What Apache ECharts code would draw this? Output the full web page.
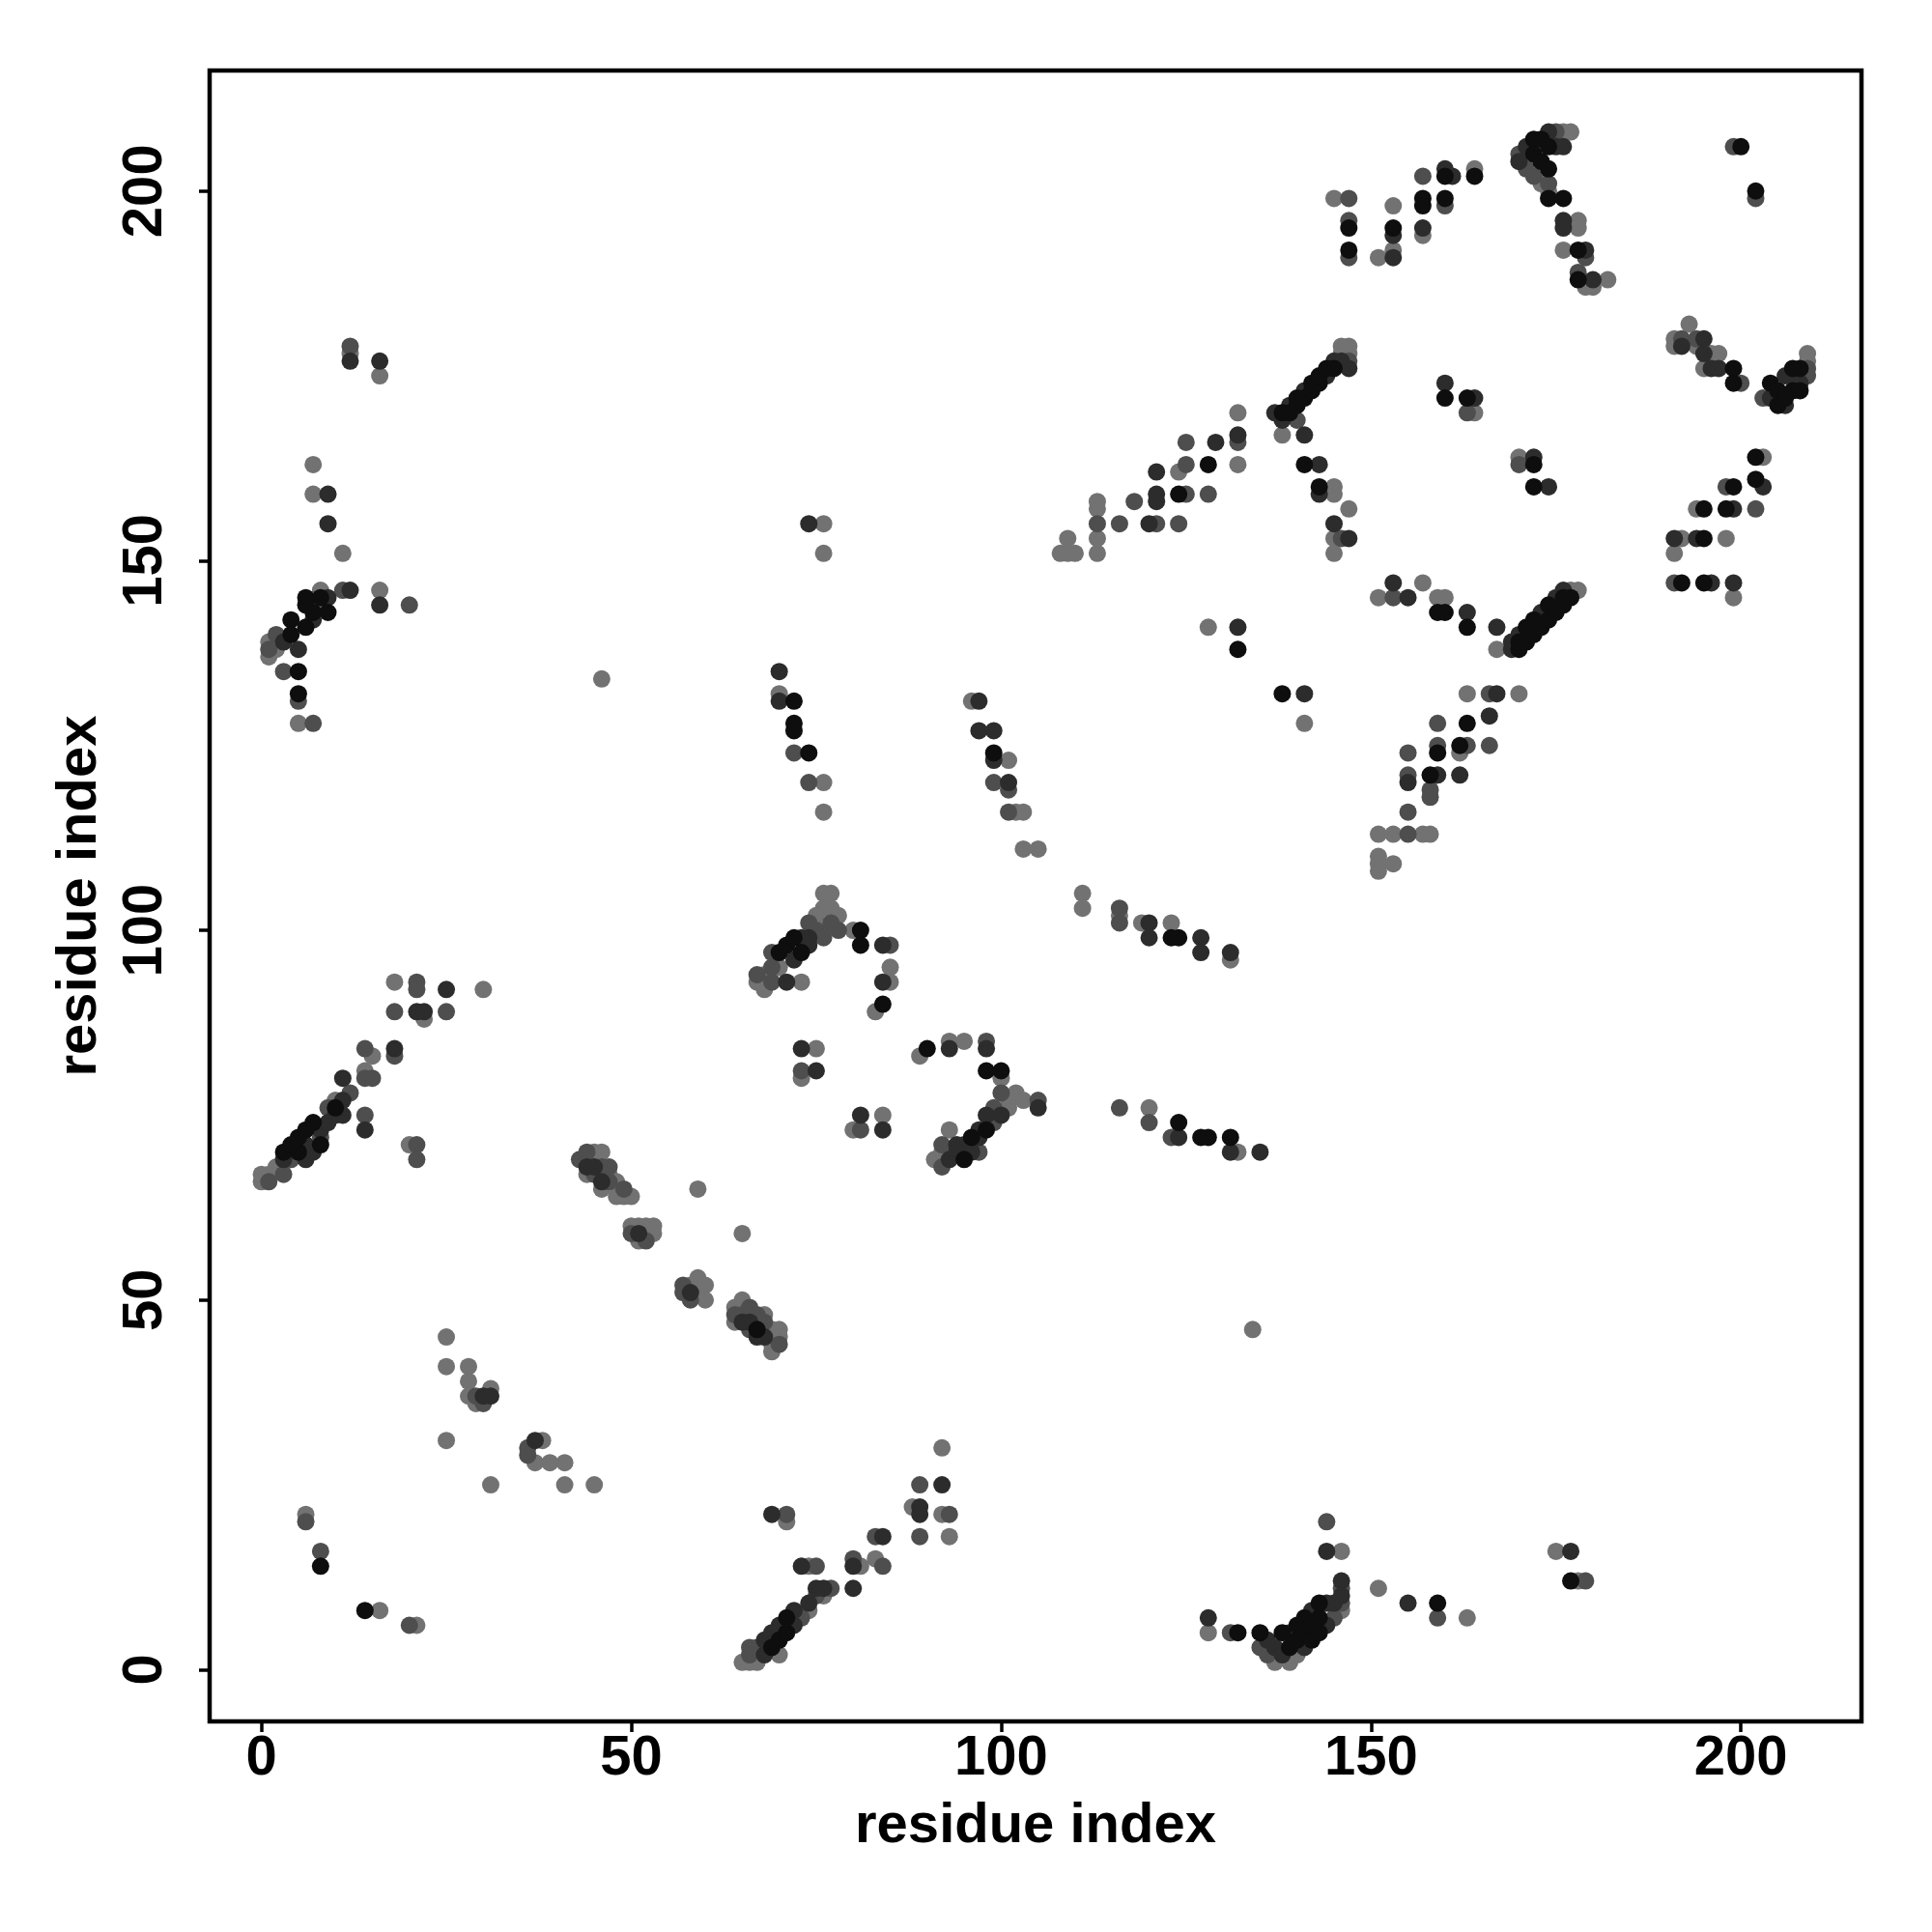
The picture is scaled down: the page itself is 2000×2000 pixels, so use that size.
<!DOCTYPE html>
<html>
<head>
<meta charset="utf-8">
<script src="https://cdn.jsdelivr.net/npm/echarts@6/dist/echarts.min.js"></script>
<style>html,body{margin:0;padding:0;background:#fff}#c{width:2000px;height:2000px}</style>
</head>
<body>
<div id="c"></div>
<script>
// Tick values on both axes
const tickVals = [0, 50, 100, 150, 200];
const axisTitle = "residue index";

// Contacts (x residue, y residue), grouped by shade of the point
const lightPts = [
 [12,178],[16,175],[7,163],[7,159],[11,151],[8,146],[16,146],[1,137],[1,139],[2,138],[8,144],[5,128],
 [0,66],[1,67],[2,68],[0,67],[14,81],[15,83],[10,77],[18,93],[30,92],[22,88],[20,71],
 [25,45],[25,41],[28,41],[28,39],[28,37],[29,36],[31,38],[25,31],[38,31],[37,28],[39,28],[41,28],[31,25],[41,25],[45,25],
 [6,21],[16,8],[21,6],
 [45,70],[46,70],[47,67],[48,66],[48,64],[49,64],[50,64],[46,65],[44,67],[59,65],[65,59],
 [50,60],[51,60],[52,60],[53,60],[51,58],[53,59],[58,52],[59,53],[59,51],[60,52],[60,50],
 [64,49],[64,47],[65,50],[68,48],[69,46],[69,44],[69,43],[70,46],[70,45],
 [92,30],[88,22],[92,21],[93,18],[71,20],[81,14],[83,15],[74,14],
 [65,1],[66,1],[67,1],[74,8],[76,10],[70,2],
 [76,105],[77,105],[76,103],[78,102],[80,100],[85,95],[85,93],[83,89],[67,93],[68,94],[68,92],[73,93],[70,95],[75,102],[76,100],[77,103],
 [70,132],[76,120],[76,116],[96,131],[101,123],[102,116],[103,116],[103,111],[105,111],[76,155],[76,151],[46,134],
 [75,84],[73,80],[84,75],[80,73],[89,83],[93,85],[95,85],[100,80],[102,78],[101,76],[93,73],[92,70],[91,69],[103,77],[101,77],
 [111,105],[111,103],[116,102],[119,101],[123,101],[131,96],[120,76],[132,70],
 [134,46],[146,16],[151,11],[128,5],[137,1],[139,1],[140,2],[146,8],[163,7],[175,16],[178,12],
 [128,141],[141,128],
 [151,113],[153,113],[157,113],[158,113],[151,110],[151,109],[151,108],[153,109],[151,145],[157,147],[159,145],[160,145],[167,138],
 [163,132],[170,132],[162,124],[177,146],[178,146],
 [203,164],[194,157],[192,153],[198,153],[191,151],[199,145],
 [108,151],[109,151],[110,151],[109,153],[113,151],[113,153],[113,157],[113,158],[124,162],[132,163],[132,170],[138,167],
 [145,160],[145,159],[147,157],[145,151],[145,153],[146,178],[147,178],[147,179],[146,179],
 [145,199],[151,191],[153,198],[153,192],[157,194],[164,203],
 [173,201],[176,208],[177,208],[174,200],[178,196],[178,195],[176,192],[179,187],[180,187],[182,188],
 [164,170],[170,164],
 [193,182],[191,180],[191,179],[194,179],[195,176],[196,178],[197,178],[209,178],[209,177]
];
const midPts = [
 [12,179],[11,146],[20,144],[5,131],[7,128],[3,135],[1,138],[2,140],
 [1,66],[3,67],[4,69],[9,76],[8,72],[12,78],[10,76],[14,80],[15,80],[14,84],[18,83],[14,75],
 [21,93],[21,92],[18,89],[25,89],[21,71],[21,69],
 [30,36],[29,37],[36,30],[36,29],[6,20],[8,16],[20,6],
 [43,69],[44,70],[45,67],[46,68],[47,68],[47,66],[49,65],[50,59],[52,58],[57,52],[57,51],[58,50],
 [64,48],[65,48],[66,49],[66,46],[67,48],[68,47],[70,44],
 [89,25],[93,21],[89,18],[71,21],[83,18],[80,15],[84,14],[75,14],[77,11],
 [66,2],[67,3],[73,7],[75,10],[66,3],
 [78,100],[85,98],[67,94],[69,95],[69,93],[75,100],[76,99],[69,97],[74,101],[77,101],
 [72,124],[74,120],[99,120],[101,119],[101,116],
 [73,81],[81,73],[98,85],[100,78],[99,76],[92,71],[92,68],[97,70],[105,77],[99,74],
 [116,103],[116,101],[116,76],[120,74],[123,72],
 [144,20],[146,11],[131,5],[135,3],[136,2],[145,7],[146,9],[159,7],[179,12],
 [155,124],[155,121],[158,119],[155,116],[155,113],[153,145],[166,132],[159,128],[159,125],[163,125],[166,125],[158,118],
 [198,160],[202,157],[191,147],
 [113,155],[116,155],[118,158],[121,155],[124,155],[125,159],[128,159],[125,163],[125,166],[132,166],[146,153],[147,177],[140,169],
 [147,199],[147,196],[147,191],[157,202],[160,198],
 [170,205],[171,203],[172,202],[175,208],[174,201],[179,191],[178,189],[199,206],[202,199],
 [163,170],[170,163],
 [192,180],[194,180],[200,174],[203,172],[209,176],[209,175]
];
const darkPts = [
 [12,177],[16,177],[9,155],[9,159],[12,146],[16,144],[3,139],[5,138],[7,142],[9,145],
 [3,69],[6,69],[7,70],[6,71],[8,73],[10,75],[11,77],[11,75],[9,74],[11,80],[14,73],[18,84],
 [25,92],[21,89],[22,89],[31,37],[30,37],[37,31],
 [44,68],[45,68],[46,66],[51,59],[58,51],[65,47],[66,47],[67,45],[68,45],
 [92,25],[89,22],[89,21],[69,21],[84,18],[80,14],[73,14],[75,11],[76,11],[80,11],
 [68,2],[68,4],[69,5],[70,6],[72,6],[72,8],[74,9],
 [84,98],[84,93],[74,99],[74,98],[71,93],[72,96],[73,99],
 [70,135],[70,131],[97,131],[97,127],[99,127],[99,123],[101,120],[74,155],
 [73,84],[75,81],[81,75],[84,73],[93,84],[98,84],[100,75],[98,75],[97,73],[94,71],[95,71],[93,69],[94,70],[96,70],[105,76],[97,72],
 [120,101],[120,99],[127,99],[127,97],[131,97],[124,72],[131,70],[135,70],
 [144,16],[155,9],[146,12],[128,7],[136,4],[137,3],[138,2],[139,5],[141,3],[142,8],[144,6],[144,9],[145,9],[146,10],[177,16],
 [132,141],[141,132],
 [155,120],[155,145],[153,147],[163,143],[167,141],[167,132],[166,129],[159,121],[162,121],
 [169,138],[169,139],[170,140],[173,143],[175,145],[176,146],
 [203,160],[199,157],[191,153],[194,153],[196,147],[199,147],
 [120,155],[121,159],[121,158],[121,162],[129,166],[132,167],[141,167],[143,163],[143,159],[145,155],[147,153],
 [139,171],[141,173],[144,175],[145,177],[146,177],[147,176],[138,169],[137,170],
 [153,194],[153,191],[157,195],[160,203],[161,202],
 [170,204],[171,206],[174,208],[175,206],[176,206],[176,196],[176,195],[179,192],[180,188],
 [160,174],[164,172],[172,164],[174,160],
 [192,179],[195,180],[195,178],[196,176],[197,176],[204,172],[206,171],[207,175],[208,174],[206,175]
];
const blackPts = [
 [6,145],[5,132],[5,135],[4,142],[4,140],[6,144],[6,141],[9,143],[7,143],[8,145],
 [3,70],[5,70],[5,72],[7,74],[8,71],[4,71],[10,76],[6,73],
 [8,14],[14,8],[67,46],
 [69,3],[70,4],[71,5],[71,7],
 [81,100],[81,98],[84,90],[70,97],[71,98],[72,99],[73,97],
 [72,131],[72,128],[72,127],[74,124],[99,124],
 [90,84],[98,81],[100,81],[98,73],[96,72],[95,69],
 [123,99],[124,99],[124,74],[127,72],[128,72],[131,72],
 [132,5],[135,5],[138,5],[139,3],[140,4],[140,6],[141,5],[141,7],[142,4],[142,6],[143,5],[143,7],[143,9],[159,9],[177,12],
 [132,138],[138,132],
 [158,121],[159,143],[160,143],[163,141],[163,128],[162,125],[159,124],
 [170,138],[170,139],[171,139],[171,141],[172,140],[172,142],[173,141],[174,142],[174,144],[175,143],[176,144],[177,145],[176,145],
 [202,164],[199,160],[202,161],[195,157],[198,157],[195,153],[192,147],[195,147],
 [124,159],[128,163],[141,163],[143,160],
 [138,170],[139,170],[140,171],[140,172],[141,172],[142,173],[142,174],[143,174],[143,175],[144,176],[145,176],
 [147,195],[147,192],[153,195],[157,199],[157,198],[160,202],[164,202],[160,199],
 [172,207],[172,205],[173,207],[173,204],[174,206],[174,203],[174,199],[176,199],[178,192],[178,188],
 [200,206],[202,200],
 [160,172],[163,172],[172,163],[172,160],
 [199,176],[199,174],[204,174],[205,173],[205,171],[206,172],[207,173],[208,176],[208,173],[207,176]
];

const shades = { light: '#727272', mid: '#4e4e4e', dark: '#2c2c2c', black: '#0e0e0e' };
const groups = [
  ['light', lightPts], ['mid', midPts], ['dark', darkPts], ['black', blackPts]
];

const FONT = 'Liberation Sans, Arial, Helvetica, sans-serif';
const chart = echarts.init(document.getElementById('c'), null, { renderer: 'canvas' });

chart.setOption({
  backgroundColor: '#ffffff',
  animation: false,
  grid: {
    left: 217, top: 73, width: 1710, height: 1709,
    show: true, borderColor: '#000', borderWidth: 4.5, backgroundColor: 'transparent'
  },
  xAxis: {
    type: 'value', min: -7, max: 216.3,
    name: axisTitle, nameLocation: 'middle', nameGap: 80,
    nameTextStyle: { fontFamily: FONT, fontWeight: 'bold', fontSize: 58, color: '#000' },
    axisLine: { show: false, onZero: false },
    splitLine: { show: false },
    axisTick: { show: true, inside: false, length: 11, customValues: tickVals, lineStyle: { color: '#000', width: 3.5 } },
    axisLabel: { show: true, customValues: tickVals, margin: 10, fontFamily: FONT, fontWeight: 'bold', fontSize: 58, color: '#000' }
  },
  yAxis: {
    type: 'value', min: -7, max: 216.3,
    name: axisTitle, nameLocation: 'middle', nameGap: 105, nameRotate: 90,
    nameTextStyle: { fontFamily: FONT, fontWeight: 'bold', fontSize: 58, color: '#000' },
    axisLine: { show: false, onZero: false },
    splitLine: { show: false },
    axisTick: { show: true, inside: false, length: 11, customValues: tickVals, lineStyle: { color: '#000', width: 3.5 } },
    axisLabel: { show: true, customValues: tickVals, rotate: 90, margin: 37, fontFamily: FONT, fontWeight: 'bold', fontSize: 58, color: '#000' }
  },
  series: groups.map(([name, pts]) => ({
    name: name,
    type: 'scatter',
    data: pts,
    symbol: 'circle',
    symbolSize: 18,
    itemStyle: { color: shades[name], opacity: 1 },
    emphasis: { disabled: true },
    silent: true
  }))
});
</script>
</body>
</html>
